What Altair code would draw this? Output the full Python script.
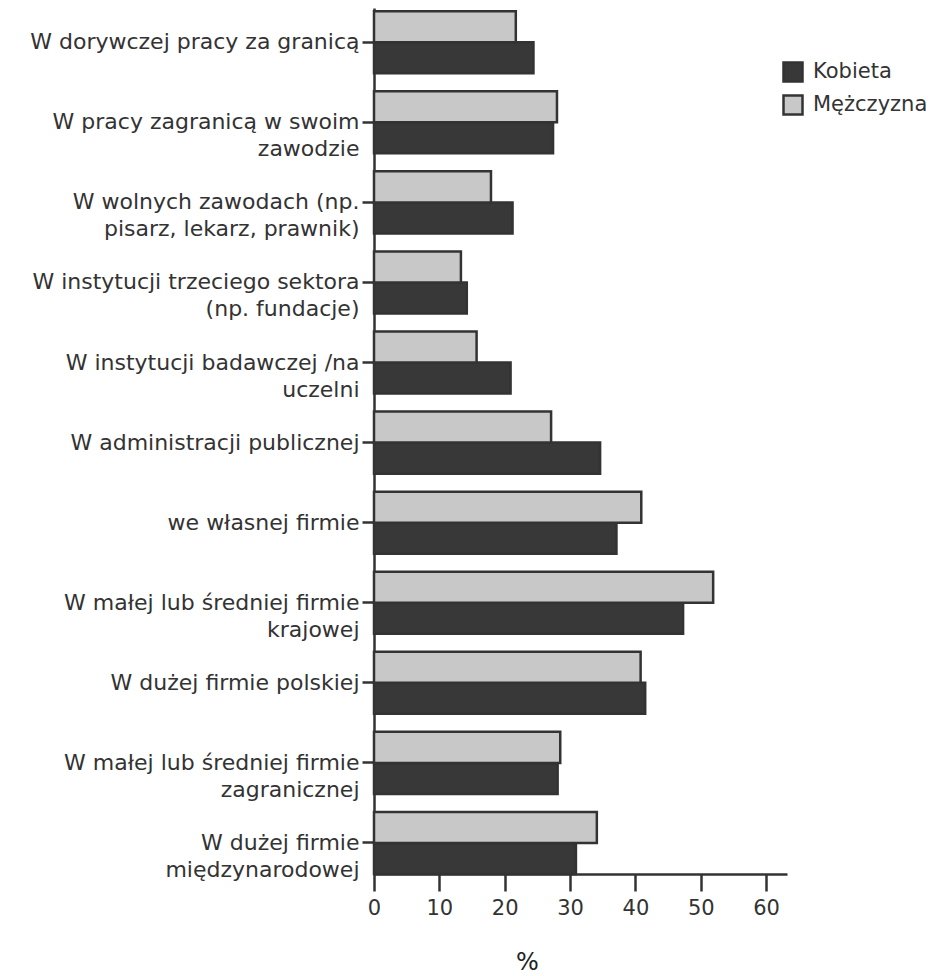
import altair as alt
import pandas as pd

categories = [
    "W dorywczej pracy za granicą",
    "W pracy zagranicą w swoim|zawodzie",
    "W wolnych zawodach (np.|pisarz, lekarz, prawnik)",
    "W instytucji trzeciego  sektora|(np. fundacje)",
    "W instytucji badawczej /na|uczelni",
    "W administracji publicznej",
    "we własnej firmie",
    "W małej lub średniej firmie|krajowej",
    "W dużej firmie polskiej",
    "W małej lub średniej firmie|zagranicznej",
    "W dużej firmie|międzynarodowej",
]
kobieta = [24.4, 27.4, 21.2, 14.2, 20.9, 34.6, 37.1, 47.3, 41.5, 28.1, 30.9]
mezczyzna = [21.7, 28.0, 17.9, 13.3, 15.7, 27.1, 40.9, 51.9, 40.8, 28.5, 34.1]
series = ["Kobieta", "Mężczyzna"]
x_ticks = [0, 10, 20, 30, 40, 50, 60]

rows = []
for c, k, m in zip(categories, kobieta, mezczyzna):
    rows.append({"kategoria": c, "plec": "Kobieta", "wartosc": k})
    rows.append({"kategoria": c, "plec": "Mężczyzna", "wartosc": m})
df = pd.DataFrame(rows)

FONT = "DejaVu Sans"

chart = alt.Chart(df).mark_bar(stroke="#333333", strokeWidth=2.5).encode(
    x=alt.X(
        "wartosc:Q",
        scale=alt.Scale(domain=[0, 63.2], nice=False, zero=True),
        axis=alt.Axis(
            values=x_ticks,
            title="%",
            titleX=153,
            titleY=88,
            titleAlign="center",
            titleBaseline="middle",
            titleFontSize=24,
            titleFontWeight="normal",
            titleFont=FONT,
            titleColor="#222222",
            labelFont=FONT,
            labelFontSize=21,
            labelColor="#333333",
            labelPadding=6,
            labelFlush=False,
            tickSize=17,
            tickWidth=2.5,
            tickColor="#333333",
            domainColor="#333333",
            domainWidth=2.5,
            grid=False,
        ),
    ),
    y=alt.Y(
        "kategoria:N",
        sort=categories,
        scale=alt.Scale(paddingInner=0.225, paddingOuter=0.02, align=1),
        axis=alt.Axis(
            title=None,
            labelExpr="split(datum.label, '|')",
            labelFont=FONT,
            labelFontSize=22,
            labelColor="#333333",
            labelLineHeight=27,
            labelPadding=3,
            labelLimit=400,
            tickSize=12,
            tickWidth=2.5,
            tickColor="#333333",
            domainColor="#333333",
            domainWidth=2.5,
            grid=False,
        ),
    ),
    yOffset=alt.YOffset("plec:N", sort=["Mężczyzna", "Kobieta"]),
    color=alt.Color(
        "plec:N",
        scale=alt.Scale(domain=series, range=["#383838", "#c8c8c8"]),
        legend=alt.Legend(
            title=None,
            orient="none",
            legendX=408,
            legendY=53,
            symbolType="square",
            symbolSize=361,
            symbolStrokeColor="#333333",
            symbolStrokeWidth=2.5,
            labelFont=FONT,
            labelFontSize=21,
            labelColor="#333333",
            labelOffset=9,
            rowPadding=3,
            padding=0,
        ),
    ),
).properties(
    width=413,
    height=866,
    autosize=alt.AutoSizeParams(type="none"),
    padding={"left": 366, "top": 0, "right": 153, "bottom": 100},
).configure_view(stroke=None)

chart.save("out.html", embed_options={"renderer": "svg", "actions": False})
